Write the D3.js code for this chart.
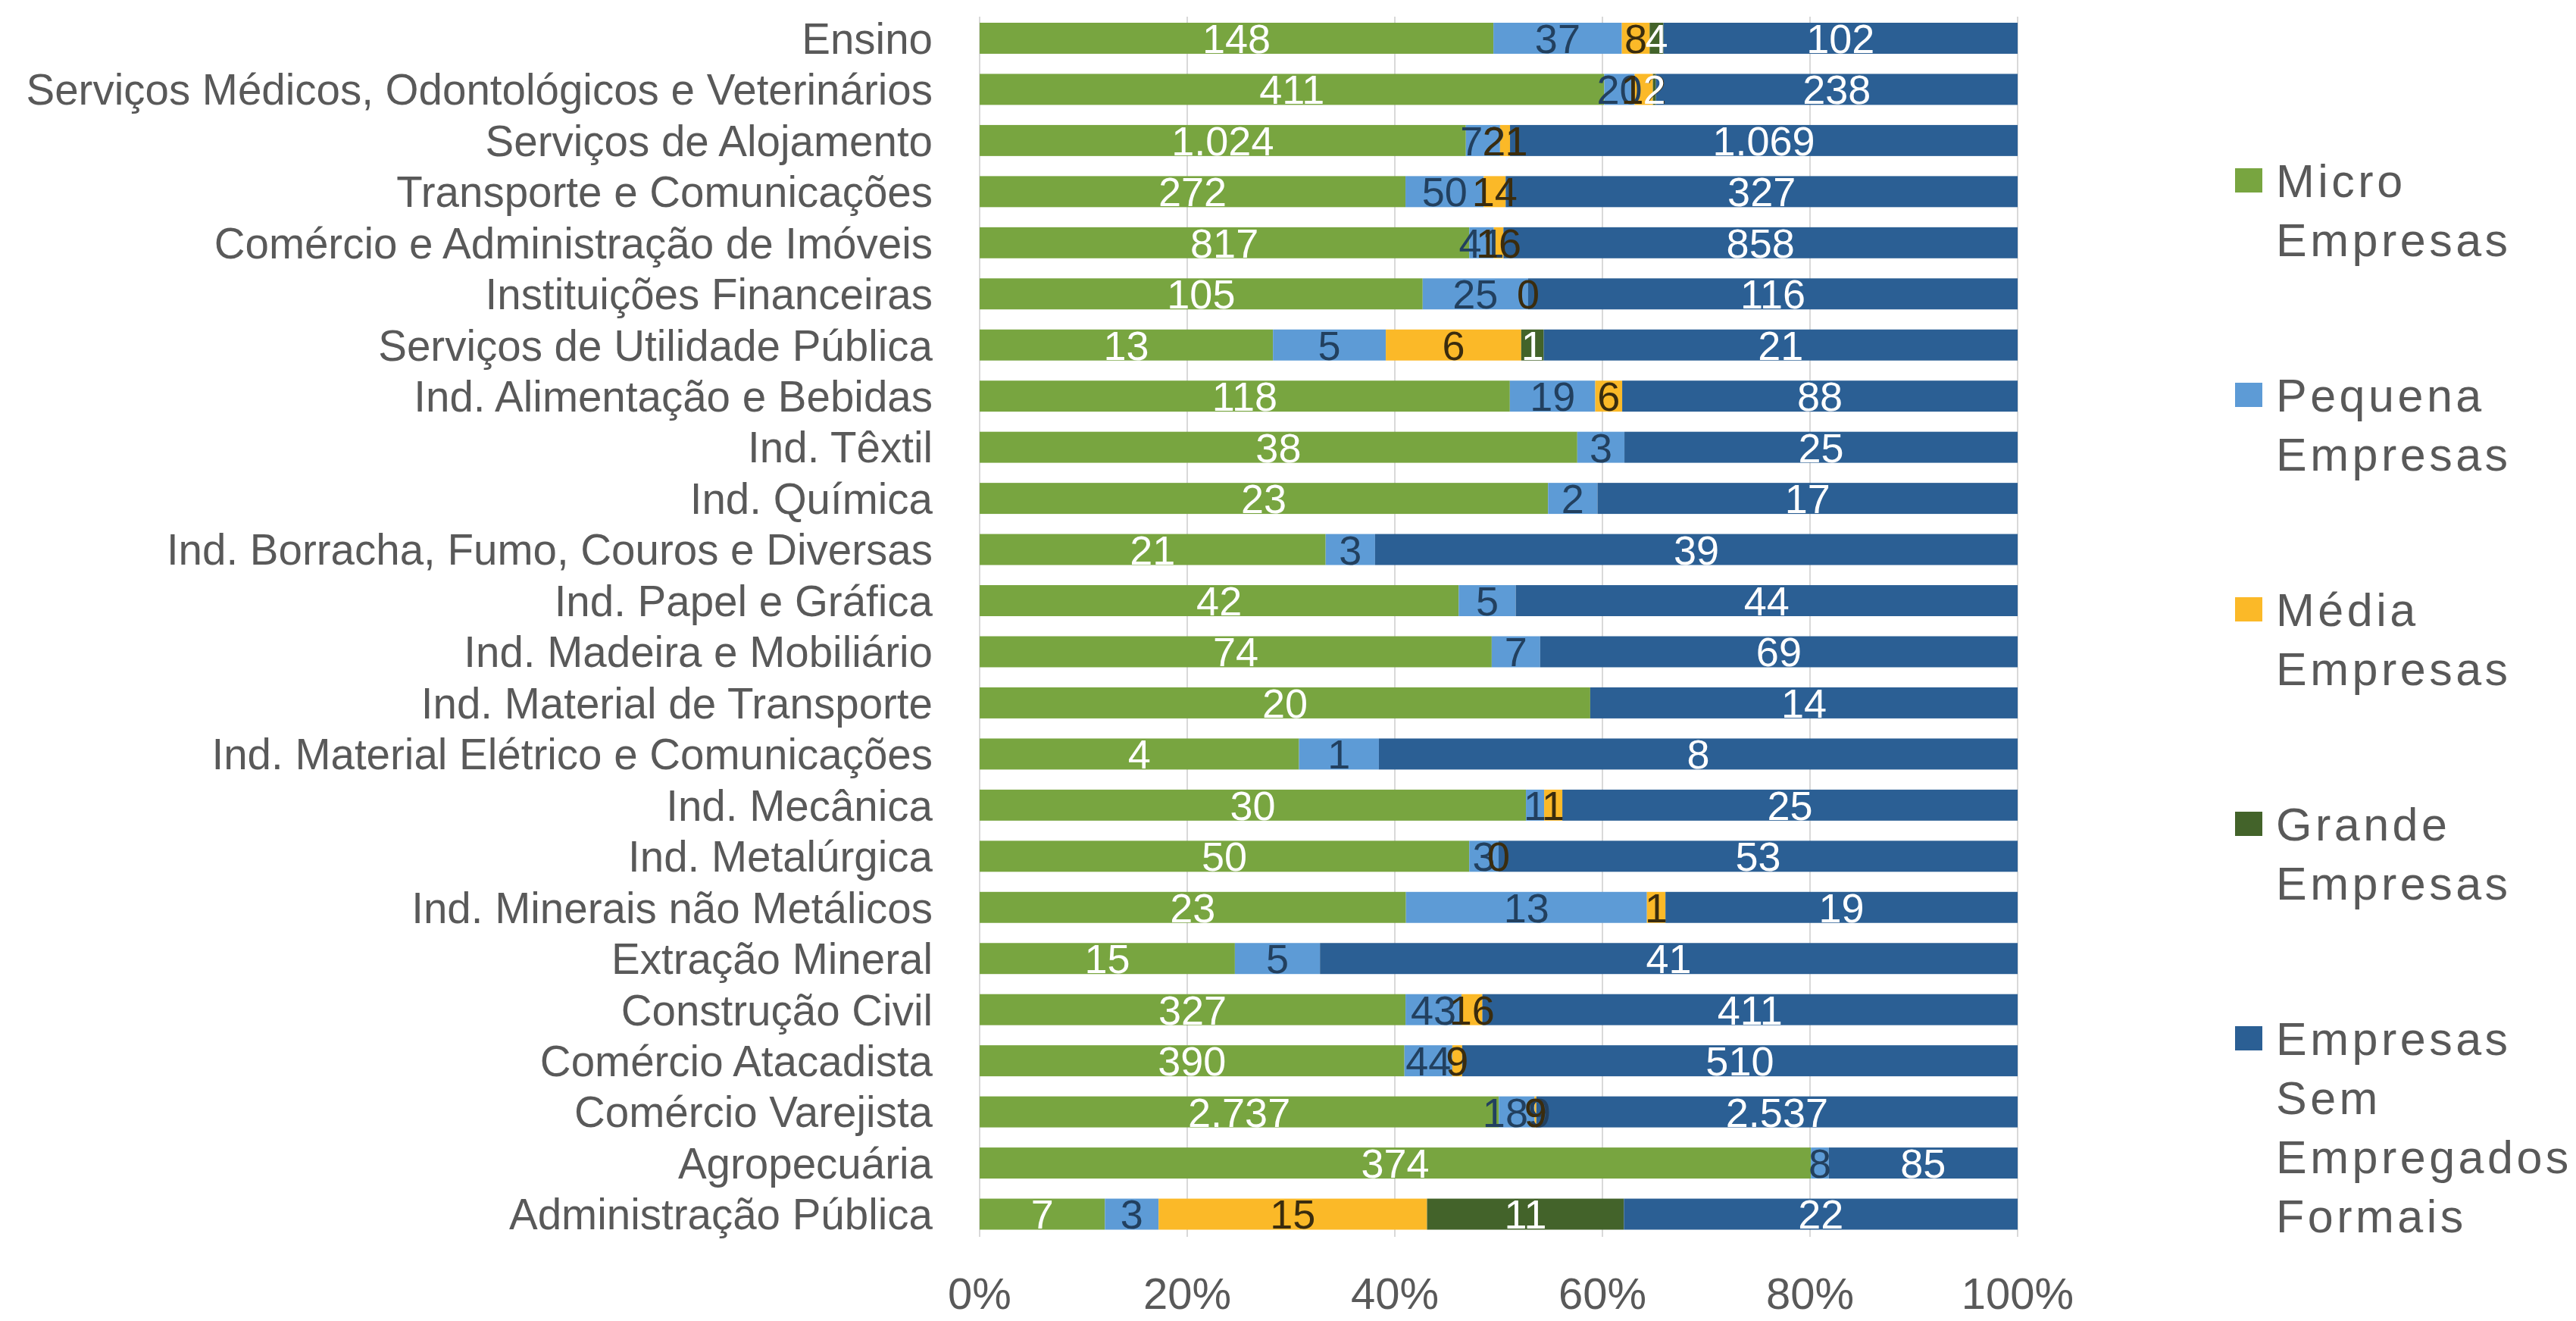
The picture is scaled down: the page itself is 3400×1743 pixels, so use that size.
<!DOCTYPE html>
<html>
<head>
<meta charset="utf-8">
<script src="https://cdn.jsdelivr.net/npm/d3@7.9.0/dist/d3.min.js"></script>
<style>
  html, body { margin: 0; padding: 0; background: #fff; }
  svg { display: block; font-family: "Liberation Sans", Arial, sans-serif; }
</style>
</head>
<body>
<svg id="chart" width="3400" height="1743"></svg>
<script>
const categories = [
  'Ensino',
  'Serviços Médicos, Odontológicos e Veterinários',
  'Serviços de Alojamento',
  'Transporte e Comunicações',
  'Comércio e Administração de Imóveis',
  'Instituições Financeiras',
  'Serviços de Utilidade Pública',
  'Ind. Alimentação e Bebidas',
  'Ind. Têxtil',
  'Ind. Química',
  'Ind. Borracha, Fumo, Couros e Diversas',
  'Ind. Papel e Gráfica',
  'Ind. Madeira e Mobiliário',
  'Ind. Material de Transporte',
  'Ind. Material Elétrico e Comunicações',
  'Ind. Mecânica',
  'Ind. Metalúrgica',
  'Ind. Minerais não Metálicos',
  'Extração Mineral',
  'Construção Civil',
  'Comércio Atacadista',
  'Comércio Varejista',
  'Agropecuária',
  'Administração Pública'
];

// null = no value (no label shown)
const micro    = [148, 411, 1024, 272, 817, 105, 13, 118, 38, 23, 21, 42, 74, 20, 4, 30, 50, 23, 15, 327, 390, 2737, 374, 7];
const pequena  = [37, 20, 72, 50, 41, 25, 5, 19, 3, 2, 3, 5, 7, null, 1, 1, 3, 13, 5, 43, 44, 189, 8, 3];
const media    = [8, 12, 21, 14, 16, 0, 6, 6, null, null, null, null, null, null, null, 1, 0, 1, null, 16, 9, 9, null, 15];
const grande   = [4, 2, null, null, null, null, 1, null, null, null, null, null, null, null, null, null, null, null, null, null, null, null, null, 11];
const semEmpr  = [102, 238, 1069, 327, 858, 116, 21, 88, 25, 17, 39, 44, 69, 14, 8, 25, 53, 19, 41, 411, 510, 2537, 85, 22];

const seriesNames = ['Micro Empresas', 'Pequena Empresas', 'Média Empresas', 'Grande Empresas', 'Empresas Sem Empregados Formais'];
const legendLines = [['Micro', 'Empresas'], ['Pequena', 'Empresas'], ['Média', 'Empresas'], ['Grande', 'Empresas'], ['Empresas', 'Sem', 'Empregados', 'Formais']];
const ticks = [0, 0.2, 0.4, 0.6, 0.8, 1];

const colors = ['#78a540', '#5d9bd6', '#fbb928', '#43632a', '#2b5f94'];
const labelColors = ['#ffffff', '#22405f', '#3a2c0e', '#ffffff', '#ffffff'];

const seriesValues = [micro, pequena, media, grande, semEmpr];
const rows = categories.map((c, i) => {
  const r = { category: c };
  seriesNames.forEach((s, k) => { r[s] = seriesValues[k][i]; });
  return r;
});

const stack = d3.stack()
  .keys(seriesNames)
  .value((d, key) => d[key] == null ? 0 : d[key])
  .offset(d3.stackOffsetExpand);
const stacked = stack(rows);

const svg = d3.select('#chart');

const x = d3.scaleLinear().domain([0, 1]).range([1293, 2663]);
const y = d3.scaleBand().domain(categories).range([16.75, 1635.75]).paddingInner(0.393).paddingOuter(0.1965);

const fmt = d3.formatLocale({ decimal: ',', thousands: '.', grouping: [3], currency: ['R$', ''] }).format(',d');

// gridlines
svg.append('g')
  .selectAll('line')
  .data(ticks)
  .join('line')
  .attr('x1', d => x(d)).attr('x2', d => x(d))
  .attr('y1', 22).attr('y2', 1632)
  .attr('stroke', '#d9d9d9')
  .attr('stroke-width', 2);

// bars
svg.append('g')
  .selectAll('g')
  .data(stacked)
  .join('g')
  .attr('fill', (d, i) => colors[i])
  .selectAll('rect')
  .data(d => d)
  .join('rect')
  .attr('x', d => x(d[0]))
  .attr('y', d => y(d.data.category))
  .attr('width', d => x(d[1]) - x(d[0]))
  .attr('height', y.bandwidth());

// data labels
svg.append('g')
  .selectAll('g')
  .data(stacked)
  .join('g')
  .attr('fill', (d, i) => labelColors[i])
  .selectAll('text')
  .data(s => s.filter(d => d.data[s.key] != null).map(d => ({ d, key: s.key })))
  .join('text')
  .attr('x', o => x((o.d[0] + o.d[1]) / 2))
  .attr('y', o => y(o.d.data.category) + y.bandwidth() / 2)
  .attr('dy', '0.36em')
  .attr('text-anchor', 'middle')
  .attr('font-size', 54)
  .text(o => fmt(o.d.data[o.key]));

// category labels
svg.append('g')
  .selectAll('text')
  .data(categories)
  .join('text')
  .attr('x', 1231)
  .attr('y', d => y(d) + y.bandwidth() / 2)
  .attr('dy', '0.36em')
  .attr('text-anchor', 'end')
  .attr('font-size', 56.5)
  .attr('fill', '#595959')
  .text(d => d);

// x axis tick labels
svg.append('g')
  .selectAll('text')
  .data(ticks)
  .join('text')
  .attr('x', d => x(d))
  .attr('y', 1727)
  .attr('text-anchor', 'middle')
  .attr('font-size', 58)
  .attr('fill', '#595959')
  .text(d3.format('.0%'));

// legend
const legend = svg.append('g')
  .selectAll('g')
  .data(legendLines)
  .join('g')
  .attr('transform', (d, i) => `translate(2950, ${238 + i * 283})`);

legend.append('rect')
  .attr('x', 0).attr('y', -16)
  .attr('width', 36).attr('height', 32)
  .attr('fill', (d, i) => colors[i]);

legend.append('text')
  .attr('x', 54)
  .attr('y', 0)
  .attr('font-size', 61)
  .attr('letter-spacing', 4.5)
  .attr('fill', '#595959')
  .selectAll('tspan')
  .data(d => d)
  .join('tspan')
  .attr('x', 54)
  .attr('dy', (d, i) => i === 0 ? '0.36em' : 78)
  .text(d => d);
</script>
</body>
</html>
